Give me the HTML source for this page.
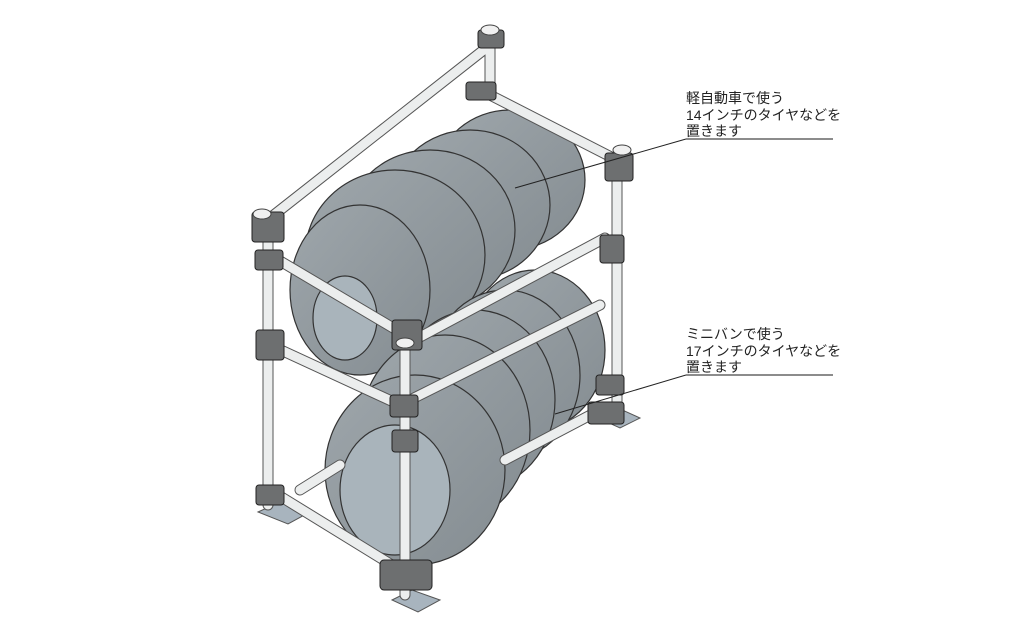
<!DOCTYPE html>
<html><head><meta charset="utf-8"><style>
html,body{margin:0;padding:0;background:#fff;width:1024px;height:640px;overflow:hidden}
svg{position:absolute;left:0;top:0}
text{font-family:"Liberation Sans","Noto Sans CJK JP",sans-serif;font-size:14px;fill:#222}
</style></head><body>
<svg width="1024" height="640" viewBox="0 0 1024 640">
<defs>
<linearGradient id="tg" x1="0" y1="0" x2="1" y2="1"><stop offset="0" stop-color="#9ea6ab"/><stop offset="1" stop-color="#858d92"/></linearGradient>
</defs>
<g stroke="#333" stroke-width="1.2" fill="url(#tg)">
<!-- upper tires (back to front) -->
<ellipse cx="510" cy="180" rx="75" ry="70"/>
<ellipse cx="470" cy="205" rx="80" ry="75"/>
<ellipse cx="430" cy="230" rx="85" ry="80"/>
<ellipse cx="395" cy="255" rx="90" ry="85"/>
<ellipse cx="360" cy="290" rx="70" ry="85"/>
<ellipse cx="345" cy="318" rx="32" ry="42" fill="#a9b4bb"/>
<!-- lower tires -->
<ellipse cx="535" cy="350" rx="70" ry="80"/>
<ellipse cx="505" cy="375" rx="75" ry="85"/>
<ellipse cx="475" cy="400" rx="80" ry="90"/>
<ellipse cx="445" cy="430" rx="85" ry="95"/>
<ellipse cx="415" cy="470" rx="90" ry="95"/>
<ellipse cx="395" cy="490" rx="55" ry="65" fill="#a9b4bb"/>
</g>
<!-- base plates -->
<g fill="#a8b4be" stroke="#555">
<polygon points="258,512 280,502 310,512 288,524"/>
<polygon points="392,600 412,590 440,600 418,612"/>
<polygon points="598,418 618,408 640,418 620,428"/>
</g>
<!-- pipes -->
<g stroke="#555" stroke-width="11" stroke-linecap="round" fill="none">
<line x1="268" y1="225" x2="268" y2="505"/>
<line x1="405" y1="345" x2="405" y2="595"/>
<line x1="617" y1="160" x2="617" y2="410"/>
<line x1="490" y1="40" x2="490" y2="95"/>
<line x1="270" y1="218" x2="490" y2="45"/>
<line x1="490" y1="95" x2="617" y2="160"/>
<line x1="270" y1="255" x2="405" y2="335"/>
<line x1="405" y1="345" x2="605" y2="238"/>
<line x1="270" y1="345" x2="400" y2="405"/>
<line x1="400" y1="405" x2="600" y2="305"/>
<line x1="270" y1="490" x2="400" y2="570"/>
<line x1="300" y1="490" x2="340" y2="465"/>
<line x1="505" y1="460" x2="600" y2="410"/>
</g>
<g stroke="#eceeee" stroke-width="9" stroke-linecap="round" fill="none">
<line x1="268" y1="225" x2="268" y2="505"/>
<line x1="405" y1="345" x2="405" y2="595"/>
<line x1="617" y1="160" x2="617" y2="410"/>
<line x1="490" y1="40" x2="490" y2="95"/>
<line x1="270" y1="218" x2="490" y2="45"/>
<line x1="490" y1="95" x2="617" y2="160"/>
<line x1="270" y1="255" x2="405" y2="335"/>
<line x1="405" y1="345" x2="605" y2="238"/>
<line x1="270" y1="345" x2="400" y2="405"/>
<line x1="400" y1="405" x2="600" y2="305"/>
<line x1="270" y1="490" x2="400" y2="570"/>
<line x1="300" y1="490" x2="340" y2="465"/>
<line x1="505" y1="460" x2="600" y2="410"/>
</g>
<!-- clamps -->
<g fill="#6d6f70" stroke="#222" stroke-width="1">
<rect x="478" y="30" width="26" height="18" rx="3"/><rect x="466" y="82" width="30" height="18" rx="3"/>
<rect x="605" y="153" width="28" height="28" rx="3"/><rect x="600" y="235" width="24" height="28" rx="3"/>
<rect x="252" y="212" width="32" height="30" rx="3"/><rect x="255" y="250" width="28" height="20" rx="3"/>
<rect x="256" y="330" width="28" height="30" rx="3"/><rect x="392" y="320" width="30" height="30" rx="3"/>
<rect x="390" y="395" width="28" height="22" rx="3"/><rect x="392" y="430" width="26" height="22" rx="3"/>
<rect x="256" y="485" width="28" height="20" rx="3"/><rect x="380" y="560" width="52" height="30" rx="4"/>
<rect x="596" y="375" width="28" height="20" rx="3"/><rect x="588" y="402" width="36" height="22" rx="3"/>
</g>
<g fill="#f0f0f0" stroke="#444"><ellipse cx="490" cy="30" rx="9" ry="5"/><ellipse cx="622" cy="150" rx="9" ry="5"/><ellipse cx="262" cy="214" rx="9" ry="5"/><ellipse cx="405" cy="343" rx="9" ry="5"/></g>
<!-- labels -->
<g stroke="#222" stroke-width="1" fill="none">
<line x1="515" y1="188" x2="686" y2="139"/><line x1="686" y1="139" x2="833" y2="139" stroke="#666" stroke-width="1.5"/>
<line x1="555" y1="414" x2="686" y2="375"/><line x1="686" y1="375" x2="833" y2="375" stroke="#666" stroke-width="1.5"/>
</g>
<text x="686" y="103">軽自動車で使う</text>
<text x="686" y="120">14インチのタイヤなどを</text>
<text x="686" y="136">置きます</text>
<text x="686" y="339">ミニバンで使う</text>
<text x="686" y="356">17インチのタイヤなどを</text>
<text x="686" y="372">置きます</text>
</svg>
</body></html>
